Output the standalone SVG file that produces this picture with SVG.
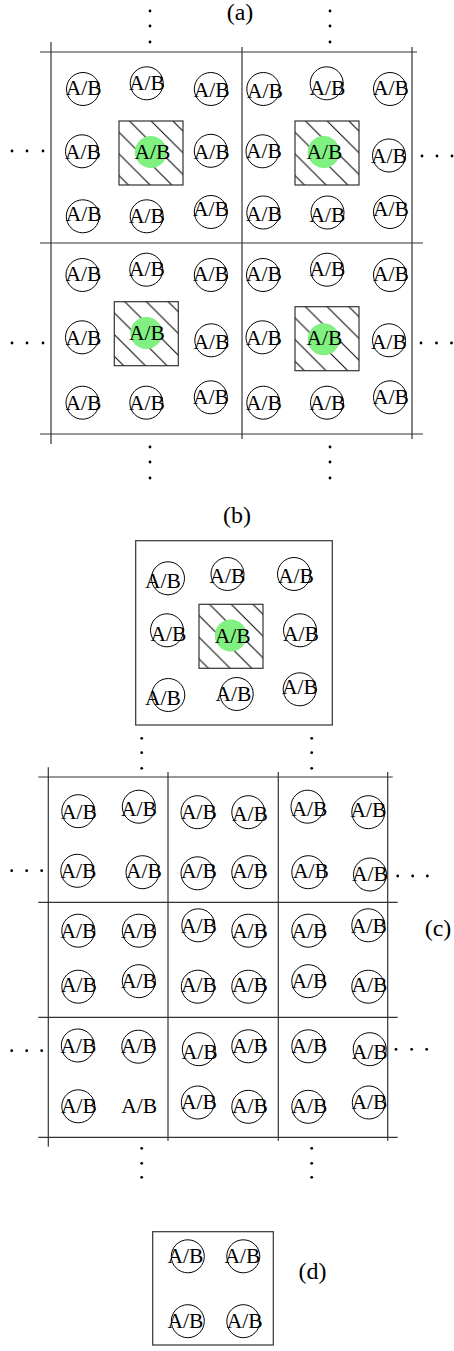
<svg xmlns="http://www.w3.org/2000/svg" width="454" height="1351" viewBox="0 0 454 1351">
<style>
.c{fill:#fff;stroke:#000;stroke-width:1}
.g{fill:#80f080;stroke:none}
.t{font-family:"Liberation Serif","Times New Roman",serif;font-size:21.5px;text-anchor:middle;fill:#000}
.lbl{font-family:"Liberation Serif","Times New Roman",serif;font-size:24px;text-anchor:middle;fill:#000}
.ln{stroke:#333;stroke-width:1.2;fill:none}
.fr{fill:#fff;stroke:#333;stroke-width:1.2}
.hs{fill:url(#hatch);stroke:#333;stroke-width:1.2}
.d{fill:#000}
</style>
<defs>
<pattern id="hatch" patternUnits="userSpaceOnUse" x="10.5" y="0" width="21.7" height="21.7">
<path d="M-1,20.7 l2,2 M0,0 l21.7,21.7 M20.7,-1 l2,2" stroke="#000" stroke-width="1"/>
</pattern>
</defs>
<rect width="454" height="1351" fill="#fff"/>

<g id="labels">
<text class="lbl" x="240" y="20">(a)</text>
<text class="lbl" x="237" y="523">(b)</text>
<text class="lbl" x="438" y="936">(c)</text>
<text class="lbl" x="312.5" y="1279">(d)</text>
</g>

<g id="grid">
<line class="ln" x1="40" y1="52" x2="417" y2="52"/>
<line class="ln" x1="40" y1="243" x2="423" y2="243"/>
<line class="ln" x1="40" y1="434" x2="423" y2="434"/>
<line class="ln" x1="51" y1="42" x2="51" y2="444"/>
<line class="ln" x1="242" y1="47" x2="242" y2="439"/>
<line class="ln" x1="412" y1="47" x2="412" y2="439"/>

<line class="ln" x1="38.3" y1="777" x2="392.7" y2="777"/>
<line class="ln" x1="38.3" y1="902.3" x2="397.7" y2="902.3"/>
<line class="ln" x1="38.3" y1="1017.3" x2="397.7" y2="1017.3"/>
<line class="ln" x1="38.3" y1="1137.3" x2="397.7" y2="1137.3"/>
<line class="ln" x1="48.3" y1="767.3" x2="48.3" y2="1146.7"/>
<line class="ln" x1="168" y1="772" x2="168" y2="1140.7"/>
<line class="ln" x1="278.3" y1="772" x2="278.3" y2="1140.7"/>
<line class="ln" x1="387.7" y1="772" x2="387.7" y2="1140.7"/>
</g>

<g id="dots">
<circle class="d" cx="150" cy="11" r="1.4"/><circle class="d" cx="150" cy="26" r="1.4"/><circle class="d" cx="150" cy="42" r="1.4"/>
<circle class="d" cx="330" cy="11" r="1.4"/><circle class="d" cx="330" cy="26" r="1.4"/><circle class="d" cx="330" cy="42" r="1.4"/>
<circle class="d" cx="12" cy="151" r="1.4"/><circle class="d" cx="27" cy="151" r="1.4"/><circle class="d" cx="43" cy="151" r="1.4"/>
<circle class="d" cx="422" cy="156" r="1.4"/><circle class="d" cx="437" cy="156" r="1.4"/><circle class="d" cx="452" cy="156" r="1.4"/>
<circle class="d" cx="12" cy="343" r="1.4"/><circle class="d" cx="27" cy="343" r="1.4"/><circle class="d" cx="43" cy="343" r="1.4"/>
<circle class="d" cx="421" cy="343" r="1.4"/><circle class="d" cx="436.5" cy="343" r="1.4"/><circle class="d" cx="451.5" cy="343" r="1.4"/>
<circle class="d" cx="150" cy="447" r="1.4"/><circle class="d" cx="150" cy="462" r="1.4"/><circle class="d" cx="150" cy="478" r="1.4"/>
<circle class="d" cx="330" cy="447" r="1.4"/><circle class="d" cx="330" cy="462" r="1.4"/><circle class="d" cx="330" cy="478" r="1.4"/>

<circle class="d" cx="141.7" cy="738.3" r="1.4"/><circle class="d" cx="141.7" cy="752.7" r="1.4"/><circle class="d" cx="141.7" cy="768.3" r="1.4"/>
<circle class="d" cx="311.7" cy="738.3" r="1.4"/><circle class="d" cx="311.7" cy="752.7" r="1.4"/><circle class="d" cx="311.7" cy="768.3" r="1.4"/>
<circle class="d" cx="11.7" cy="870.7" r="1.4"/><circle class="d" cx="26.7" cy="870.7" r="1.4"/><circle class="d" cx="41.7" cy="870.7" r="1.4"/>
<circle class="d" cx="397.7" cy="876" r="1.4"/><circle class="d" cx="412.7" cy="876" r="1.4"/><circle class="d" cx="427.3" cy="876" r="1.4"/>
<circle class="d" cx="11.7" cy="1050.7" r="1.4"/><circle class="d" cx="26.7" cy="1050.7" r="1.4"/><circle class="d" cx="41.7" cy="1050.7" r="1.4"/>
<circle class="d" cx="396" cy="1049.3" r="1.4"/><circle class="d" cx="411.7" cy="1049.3" r="1.4"/><circle class="d" cx="426.7" cy="1049.3" r="1.4"/>
<circle class="d" cx="141.7" cy="1148.3" r="1.4"/><circle class="d" cx="141.7" cy="1163.3" r="1.4"/><circle class="d" cx="141.7" cy="1177.3" r="1.4"/>
<circle class="d" cx="311.7" cy="1148.3" r="1.4"/><circle class="d" cx="311.7" cy="1163.3" r="1.4"/><circle class="d" cx="311.7" cy="1177.3" r="1.4"/>
</g>

<g id="frame-b"><rect class="fr" x="135.7" y="540.7" width="196.6" height="184.3"/></g>
<g id="frame-d"><rect class="fr" x="152.7" y="1231.7" width="120.6" height="113.3"/></g>

<g id="a-tl-1"><circle class="c" cx="83" cy="89" r="16.5"/><text class="t" x="83.7" y="94.7">A/B</text></g>
<g id="a-tl-2"><circle class="c" cx="146.7" cy="83.3" r="16.5"/><text class="t" x="147" y="90.2">A/B</text></g>
<g id="a-tl-3"><circle class="c" cx="210.8" cy="89" r="16.5"/><text class="t" x="211.7" y="97.2">A/B</text></g>
<g id="a-tl-4"><circle class="c" cx="82" cy="151.3" r="16.5"/><text class="t" x="83" y="158.9">A/B</text></g>
<g id="a-tl-5"><g transform="translate(119,121)"><rect class="hs" width="64" height="64"/></g><circle class="g" cx="150.8" cy="152" r="16"/><text class="t" x="152.5" y="158.9">A/B</text></g>
<g id="a-tl-6"><circle class="c" cx="210.8" cy="150.8" r="16.5"/><text class="t" x="211.7" y="158.9">A/B</text></g>
<g id="a-tl-7"><circle class="c" cx="82.8" cy="216.3" r="16.5"/><text class="t" x="83.7" y="221.2">A/B</text></g>
<g id="a-tl-8"><circle class="c" cx="146.7" cy="216.3" r="16.5"/><text class="t" x="147" y="222.7">A/B</text></g>
<g id="a-tl-9"><circle class="c" cx="210.8" cy="212" r="16.5"/><text class="t" x="211" y="216.2">A/B</text></g>

<g id="a-tr-1"><circle class="c" cx="263.3" cy="89" r="16.5"/><text class="t" x="265" y="98">A/B</text></g>
<g id="a-tr-2"><circle class="c" cx="326.7" cy="83.3" r="16.5"/><text class="t" x="327.5" y="94.7">A/B</text></g>
<g id="a-tr-3"><circle class="c" cx="390" cy="89" r="16.5"/><text class="t" x="391" y="94.7">A/B</text></g>
<g id="a-tr-4"><circle class="c" cx="262.5" cy="151.3" r="16.5"/><text class="t" x="264" y="158">A/B</text></g>
<g id="a-tr-5"><g transform="translate(295,121)"><rect class="hs" width="64" height="64"/></g><circle class="g" cx="323.7" cy="152" r="16"/><text class="t" x="324.5" y="158.5">A/B</text></g>
<g id="a-tr-6"><circle class="c" cx="389" cy="155.5" r="16.5"/><text class="t" x="389" y="163">A/B</text></g>
<g id="a-tr-7"><circle class="c" cx="263.3" cy="212.5" r="16.5"/><text class="t" x="264" y="220.5">A/B</text></g>
<g id="a-tr-8"><circle class="c" cx="327.5" cy="212.5" r="16.5"/><text class="t" x="327.5" y="222.2">A/B</text></g>
<g id="a-tr-9"><circle class="c" cx="390" cy="212" r="16.5"/><text class="t" x="391" y="216.2">A/B</text></g>

<g id="a-bl-1"><circle class="c" cx="82.5" cy="275" r="16.5"/><text class="t" x="83.3" y="281.4">A/B</text></g>
<g id="a-bl-2"><circle class="c" cx="146.3" cy="269.7" r="16.5"/><text class="t" x="147" y="276">A/B</text></g>
<g id="a-bl-3"><circle class="c" cx="210.8" cy="275" r="16.5"/><text class="t" x="210.8" y="281.4">A/B</text></g>
<g id="a-bl-4"><circle class="c" cx="82" cy="337.3" r="16.5"/><text class="t" x="83.3" y="344.7">A/B</text></g>
<g id="a-bl-5"><g transform="translate(114.3,301.7)"><rect class="hs" width="64" height="64"/></g><circle class="g" cx="146.3" cy="333" r="16"/><text class="t" x="147" y="339.7">A/B</text></g>
<g id="a-bl-6"><circle class="c" cx="211.3" cy="340.3" r="16.5"/><text class="t" x="211.3" y="348.9">A/B</text></g>
<g id="a-bl-7"><circle class="c" cx="82.5" cy="402.7" r="16.5"/><text class="t" x="83.3" y="409.7">A/B</text></g>
<g id="a-bl-8"><circle class="c" cx="146.3" cy="402.7" r="16.5"/><text class="t" x="147" y="409.7">A/B</text></g>
<g id="a-bl-9"><circle class="c" cx="210.8" cy="397.3" r="16.5"/><text class="t" x="210.8" y="403.7">A/B</text></g>

<g id="a-br-1"><circle class="c" cx="263" cy="275" r="16.5"/><text class="t" x="264" y="281.4">A/B</text></g>
<g id="a-br-2"><circle class="c" cx="327" cy="269.7" r="16.5"/><text class="t" x="327.5" y="276">A/B</text></g>
<g id="a-br-3"><circle class="c" cx="390" cy="275" r="16.5"/><text class="t" x="391" y="281.4">A/B</text></g>
<g id="a-br-4"><circle class="c" cx="262.5" cy="337.3" r="16.5"/><text class="t" x="263.8" y="344.7">A/B</text></g>
<g id="a-br-5"><g transform="translate(295,306.7)"><rect class="hs" width="64" height="64"/></g><circle class="g" cx="323.7" cy="339.3" r="16"/><text class="t" x="324.5" y="344.7">A/B</text></g>
<g id="a-br-6"><circle class="c" cx="389" cy="340.3" r="16.5"/><text class="t" x="389" y="348.9">A/B</text></g>
<g id="a-br-7"><circle class="c" cx="263.3" cy="402.7" r="16.5"/><text class="t" x="264" y="409.7">A/B</text></g>
<g id="a-br-8"><circle class="c" cx="327" cy="402.7" r="16.5"/><text class="t" x="327.5" y="409.7">A/B</text></g>
<g id="a-br-9"><circle class="c" cx="390" cy="397.3" r="16.5"/><text class="t" x="391" y="403.7">A/B</text></g>

<g id="b-1"><circle class="c" cx="168" cy="578.3" r="16.5"/><text class="t" x="163" y="588.2">A/B</text></g>
<g id="b-2"><circle class="c" cx="227.5" cy="574" r="16.5"/><text class="t" x="227.5" y="582.7">A/B</text></g>
<g id="b-3"><circle class="c" cx="294" cy="574" r="16.5"/><text class="t" x="296" y="582.7">A/B</text></g>
<g id="b-4"><circle class="c" cx="167" cy="630.3" r="16.5"/><text class="t" x="168.5" y="641.2">A/B</text></g>
<g id="b-5"><g transform="translate(199,604.3)"><rect class="hs" width="64" height="64"/></g><circle class="g" cx="230.8" cy="635.5" r="16"/><text class="t" x="232.7" y="643">A/B</text></g>
<g id="b-6"><circle class="c" cx="300" cy="630.3" r="16.5"/><text class="t" x="301" y="641.2">A/B</text></g>
<g id="b-7"><circle class="c" cx="168.3" cy="695" r="16.5"/><text class="t" x="163" y="705.2">A/B</text></g>
<g id="b-8"><circle class="c" cx="236.7" cy="694" r="16.5"/><text class="t" x="233.3" y="700.5">A/B</text></g>
<g id="b-9"><circle class="c" cx="299.7" cy="689.3" r="16.5"/><text class="t" x="300" y="694.2">A/B</text></g>

<g id="c-r1-1"><circle class="c" cx="78.3" cy="811.2" r="16.5"/><text class="t" x="79" y="818.9">A/B</text></g>
<g id="c-r1-2"><circle class="c" cx="138.8" cy="806.7" r="16.5"/><text class="t" x="138.8" y="815.5">A/B</text></g>
<g id="c-r1-3"><circle class="c" cx="197.5" cy="812.2" r="16.5"/><text class="t" x="198.8" y="818.9">A/B</text></g>
<g id="c-r1-4"><circle class="c" cx="248.3" cy="812.2" r="16.5"/><text class="t" x="250" y="821.2">A/B</text></g>
<g id="c-r1-5"><circle class="c" cx="307.5" cy="806.7" r="16.5"/><text class="t" x="309.3" y="815.7">A/B</text></g>
<g id="c-r1-6"><circle class="c" cx="368.3" cy="812.2" r="16.5"/><text class="t" x="368.3" y="817.2">A/B</text></g>

<g id="c-r2-1"><circle class="c" cx="77.3" cy="870.8" r="16.5"/><text class="t" x="78.3" y="877.5">A/B</text></g>
<g id="c-r2-2"><circle class="c" cx="142.5" cy="872.2" r="16.5"/><text class="t" x="143.8" y="877.5">A/B</text></g>
<g id="c-r2-3"><circle class="c" cx="197.5" cy="873.3" r="16.5"/><text class="t" x="198.8" y="877.5">A/B</text></g>
<g id="c-r2-4"><circle class="c" cx="248.3" cy="872.2" r="16.5"/><text class="t" x="250" y="877.5">A/B</text></g>
<g id="c-r2-5"><circle class="c" cx="308.3" cy="872.2" r="16.5"/><text class="t" x="310.8" y="877.5">A/B</text></g>
<g id="c-r2-6"><circle class="c" cx="370" cy="874.5" r="16.5"/><text class="t" x="370" y="881.4">A/B</text></g>

<g id="c-r3-1"><circle class="c" cx="78.3" cy="930.7" r="16.5"/><text class="t" x="78.3" y="938">A/B</text></g>
<g id="c-r3-2"><circle class="c" cx="138.8" cy="930.7" r="16.5"/><text class="t" x="138.8" y="938">A/B</text></g>
<g id="c-r3-3"><circle class="c" cx="198.3" cy="925.3" r="16.5"/><text class="t" x="198.8" y="933.2">A/B</text></g>
<g id="c-r3-4"><circle class="c" cx="248.3" cy="930.7" r="16.5"/><text class="t" x="250" y="938">A/B</text></g>
<g id="c-r3-5"><circle class="c" cx="308.3" cy="930.7" r="16.5"/><text class="t" x="309.3" y="938">A/B</text></g>
<g id="c-r3-6"><circle class="c" cx="368.3" cy="925.3" r="16.5"/><text class="t" x="369" y="933.2">A/B</text></g>

<g id="c-r4-1"><circle class="c" cx="78.3" cy="986.7" r="16.5"/><text class="t" x="79" y="992.2">A/B</text></g>
<g id="c-r4-2"><circle class="c" cx="138.8" cy="981.2" r="16.5"/><text class="t" x="138.8" y="988">A/B</text></g>
<g id="c-r4-3"><circle class="c" cx="197.8" cy="986.7" r="16.5"/><text class="t" x="198.8" y="992.2">A/B</text></g>
<g id="c-r4-4"><circle class="c" cx="248.3" cy="986.7" r="16.5"/><text class="t" x="250" y="992.2">A/B</text></g>
<g id="c-r4-5"><circle class="c" cx="308.3" cy="981.2" r="16.5"/><text class="t" x="309.3" y="988">A/B</text></g>
<g id="c-r4-6"><circle class="c" cx="368.3" cy="986.7" r="16.5"/><text class="t" x="369.5" y="992.2">A/B</text></g>

<g id="c-r5-1"><circle class="c" cx="77.8" cy="1045.5" r="16.5"/><text class="t" x="78.3" y="1053.2">A/B</text></g>
<g id="c-r5-2"><circle class="c" cx="138.3" cy="1046.7" r="16.5"/><text class="t" x="138.8" y="1053.2">A/B</text></g>
<g id="c-r5-3"><circle class="c" cx="198.8" cy="1049.2" r="16.5"/><text class="t" x="199.7" y="1058.9">A/B</text></g>
<g id="c-r5-4"><circle class="c" cx="248.3" cy="1046.3" r="16.5"/><text class="t" x="250" y="1053.2">A/B</text></g>
<g id="c-r5-5"><circle class="c" cx="308.3" cy="1046.3" r="16.5"/><text class="t" x="309.3" y="1053.2">A/B</text></g>
<g id="c-r5-6"><circle class="c" cx="369.7" cy="1049.2" r="16.5"/><text class="t" x="369.7" y="1058.9">A/B</text></g>

<g id="c-r6-1"><circle class="c" cx="78.3" cy="1106.3" r="16.5"/><text class="t" x="79" y="1113">A/B</text></g>
<g id="c-r6-2"><text class="t" x="139.2" y="1113">A/B</text></g>
<g id="c-r6-3"><circle class="c" cx="197.8" cy="1102.5" r="16.5"/><text class="t" x="198.8" y="1108.7">A/B</text></g>
<g id="c-r6-4"><circle class="c" cx="248.3" cy="1106.8" r="16.5"/><text class="t" x="250" y="1113">A/B</text></g>
<g id="c-r6-5"><circle class="c" cx="308.3" cy="1106.8" r="16.5"/><text class="t" x="309.3" y="1113">A/B</text></g>
<g id="c-r6-6"><circle class="c" cx="368.8" cy="1102.5" r="16.5"/><text class="t" x="369.5" y="1108.7">A/B</text></g>

<g id="d-1"><circle class="c" cx="187.8" cy="1256.3" r="16.5"/><text class="t" x="185.5" y="1263">A/B</text></g>
<g id="d-2"><circle class="c" cx="243.3" cy="1256.3" r="16.5"/><text class="t" x="242.5" y="1263">A/B</text></g>
<g id="d-3"><circle class="c" cx="187.8" cy="1321.2" r="16.5"/><text class="t" x="185.5" y="1328">A/B</text></g>
<g id="d-4"><circle class="c" cx="243.3" cy="1321.2" r="16.5"/><text class="t" x="244.7" y="1328">A/B</text></g>
</svg>
